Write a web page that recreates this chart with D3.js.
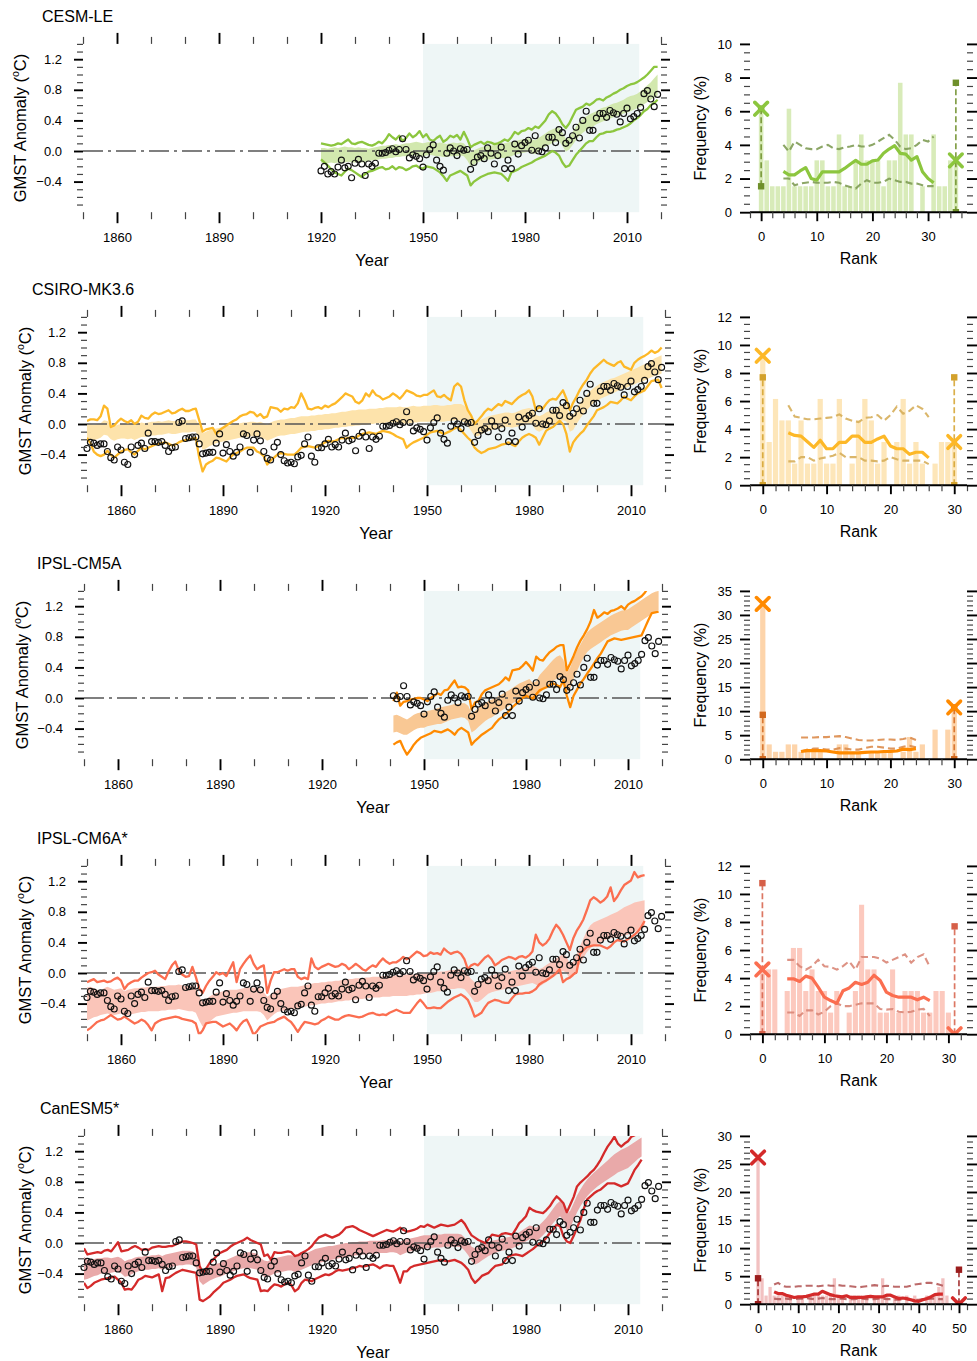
<!DOCTYPE html>
<html><head><meta charset="utf-8">
<script src="https://cdn.jsdelivr.net/npm/d3@7"></script>
<style>body{margin:0;background:#fff}</style>
</head><body><svg id="c" width="977" height="1361"></svg>
<script>
// ---------------- DATA ----------------
const obsStart = 1850;
const obs = [
-0.32,-0.24,-0.25,-0.28,-0.26,-0.26,-0.36,-0.44,-0.47,-0.30,
-0.34,-0.50,-0.53,-0.30,-0.40,-0.28,-0.25,-0.32,-0.12,-0.23,
-0.23,-0.24,-0.23,-0.28,-0.36,-0.31,-0.30,0.02,0.04,-0.19,
-0.18,-0.17,-0.17,-0.26,-0.39,-0.38,-0.37,-0.37,-0.25,-0.13,
-0.38,-0.27,-0.36,-0.42,-0.37,-0.30,-0.13,-0.15,-0.37,-0.21,
-0.13,-0.22,-0.36,-0.45,-0.47,-0.30,-0.24,-0.40,-0.48,-0.51,
-0.50,-0.52,-0.43,-0.41,-0.26,-0.17,-0.42,-0.50,-0.31,-0.31,
-0.26,-0.20,-0.30,-0.27,-0.30,-0.21,-0.12,-0.22,-0.20,-0.35,
-0.16,-0.11,-0.17,-0.32,-0.17,-0.20,-0.16,-0.03,-0.03,-0.02,
0.01,0.03,-0.01,0.02,0.16,0.02,-0.09,-0.05,-0.07,-0.10,
-0.21,-0.05,0.02,0.08,-0.12,-0.20,-0.25,-0.03,0.04,0.00,
-0.06,0.03,0.01,0.02,-0.24,-0.15,-0.08,-0.06,-0.10,0.04,
-0.03,-0.17,-0.06,0.05,-0.23,-0.12,-0.23,0.09,-0.04,0.07,
0.11,0.14,0.01,0.20,0.00,-0.01,0.04,0.18,0.18,0.11,
0.28,0.24,0.10,0.14,0.20,0.31,0.17,0.40,0.52,0.27,
0.27,0.43,0.49,0.49,0.44,0.53,0.50,0.48,0.38,0.49,
0.56,0.42,0.45,0.49,0.57,0.75,0.79,0.68,0.58,0.74];

// CESM-LE (1920-2019)
const cesmStart = 1920;
const cesmUpper = [
0.10,0.09,0.08,0.07,0.08,0.10,0.09,0.12,0.15,0.10,
0.09,0.11,0.12,0.10,0.08,0.07,0.09,0.12,0.10,0.15,
0.22,0.18,0.15,0.20,0.13,0.17,0.23,0.18,0.21,0.26,
0.18,0.22,0.15,0.13,0.17,0.20,0.12,0.15,0.20,0.18,
0.21,0.15,0.25,0.16,0.05,0.08,0.10,0.12,0.09,0.12,
0.11,0.09,0.10,0.12,0.15,0.13,0.18,0.25,0.22,0.26,
0.27,0.30,0.28,0.32,0.30,0.35,0.40,0.48,0.52,0.49,
0.43,0.35,0.30,0.36,0.45,0.54,0.56,0.58,0.62,0.60,
0.63,0.67,0.68,0.66,0.70,0.72,0.75,0.77,0.80,0.82,
0.85,0.87,0.88,0.90,0.93,0.96,1.00,1.05,1.10,1.10];
const cesmLower = [
-0.11,-0.15,-0.19,-0.24,-0.28,-0.30,-0.32,-0.27,-0.23,-0.25,
-0.28,-0.31,-0.34,-0.30,-0.27,-0.26,-0.24,-0.22,-0.21,-0.24,
-0.23,-0.20,-0.24,-0.21,-0.22,-0.25,-0.23,-0.20,-0.19,-0.22,
-0.23,-0.20,-0.21,-0.22,-0.25,-0.28,-0.33,-0.39,-0.32,-0.30,
-0.28,-0.26,-0.29,-0.32,-0.45,-0.40,-0.37,-0.34,-0.32,-0.30,
-0.29,-0.28,-0.29,-0.30,-0.34,-0.39,-0.28,-0.26,-0.24,-0.21,
-0.19,-0.17,-0.15,-0.12,-0.10,-0.08,-0.06,-0.03,0.00,-0.02,
-0.06,-0.15,-0.21,-0.19,-0.12,-0.05,0.00,0.05,0.10,0.13,
0.13,0.18,0.22,0.23,0.25,0.25,0.26,0.28,0.29,0.31,
0.33,0.36,0.40,0.43,0.47,0.52,0.55,0.60,0.63,0.67];
const cesmBandHi = [
0.04,0.04,0.03,0.04,0.05,0.04,0.05,0.06,0.05,0.05,
0.04,0.05,0.04,0.04,0.03,0.04,0.05,0.06,0.07,0.07,
0.08,0.08,0.09,0.08,0.09,0.10,0.10,0.11,0.12,0.11,
0.10,0.11,0.12,0.11,0.10,0.11,0.10,0.09,0.10,0.11,
0.10,0.11,0.10,0.05,-0.02,0.01,0.03,0.05,0.06,0.07,
0.07,0.08,0.09,0.09,0.10,0.11,0.12,0.13,0.14,0.15,
0.16,0.17,0.15,0.14,0.17,0.20,0.23,0.26,0.28,0.30,
0.31,0.25,0.16,0.18,0.25,0.32,0.38,0.42,0.45,0.48,
0.50,0.52,0.55,0.57,0.58,0.60,0.62,0.63,0.65,0.67,
0.70,0.72,0.73,0.75,0.78,0.82,0.86,0.90,0.95,1.00];
const cesmBandLo = [
-0.15,-0.16,-0.16,-0.15,-0.16,-0.15,-0.16,-0.15,-0.14,-0.15,
-0.15,-0.14,-0.15,-0.14,-0.13,-0.12,-0.12,-0.11,-0.10,-0.10,
-0.09,-0.09,-0.08,-0.08,-0.07,-0.07,-0.07,-0.06,-0.06,-0.07,
-0.07,-0.06,-0.05,-0.06,-0.07,-0.07,-0.08,-0.08,-0.07,-0.07,
-0.07,-0.06,-0.07,-0.12,-0.20,-0.18,-0.15,-0.13,-0.12,-0.11,
-0.11,-0.10,-0.10,-0.09,-0.09,-0.08,-0.07,-0.05,-0.04,-0.03,
-0.02,-0.01,-0.03,-0.04,-0.01,0.03,0.06,0.08,0.10,0.12,
0.13,0.07,-0.01,0.02,0.08,0.14,0.20,0.24,0.27,0.30,
0.32,0.35,0.37,0.39,0.40,0.42,0.44,0.46,0.47,0.49,
0.50,0.52,0.54,0.56,0.58,0.61,0.64,0.67,0.70,0.73];

// CSIRO-MK3.6 (1850-2019)
const csiroStart = 1850;
const csiroUpper = [
0.04,0.06,0.06,0.05,0.10,0.24,0.20,-0.04,-0.02,0.03,
0.07,0.04,0.02,0.05,0.00,0.03,0.11,0.08,0.07,0.12,
0.15,0.13,0.14,0.16,0.18,0.14,0.15,0.18,0.20,0.17,
0.17,0.19,0.20,0.05,-0.10,-0.07,-0.06,-0.05,-0.13,-0.08,
-0.05,-0.02,0.01,0.04,0.06,0.10,0.12,0.13,0.16,0.15,
0.10,0.13,0.08,0.10,0.22,0.21,0.20,0.16,0.20,0.19,
0.22,0.21,0.27,0.40,0.31,0.20,0.19,0.21,0.22,0.20,
0.24,0.22,0.25,0.27,0.31,0.35,0.40,0.38,0.36,0.29,
0.27,0.31,0.40,0.36,0.44,0.38,0.36,0.32,0.34,0.36,
0.40,0.37,0.33,0.38,0.44,0.42,0.40,0.37,0.36,0.38,
0.38,0.41,0.44,0.36,0.35,0.38,0.34,0.31,0.49,0.53,
0.49,0.31,0.18,0.11,0.00,0.05,0.10,0.16,0.20,0.18,
0.22,0.26,0.24,0.30,0.28,0.26,0.31,0.35,0.38,0.40,
0.44,0.36,0.18,0.22,0.20,0.26,0.31,0.33,0.32,0.38,
0.44,0.33,0.18,0.28,0.36,0.45,0.52,0.58,0.66,0.72,
0.76,0.80,0.84,0.80,0.78,0.76,0.80,0.82,0.75,0.73,
0.71,0.80,0.84,0.87,0.89,0.92,0.96,0.93,0.95,1.00];
const csiroLower = [
-0.18,-0.25,-0.36,-0.40,-0.42,-0.40,-0.35,-0.40,-0.44,-0.40,
-0.36,-0.34,-0.33,-0.37,-0.40,-0.35,-0.31,-0.33,-0.31,-0.29,
-0.27,-0.26,-0.25,-0.24,-0.26,-0.28,-0.27,-0.24,-0.22,-0.21,
-0.20,-0.19,-0.18,-0.44,-0.62,-0.53,-0.50,-0.48,-0.44,-0.45,
-0.47,-0.49,-0.44,-0.40,-0.38,-0.36,-0.33,-0.31,-0.31,-0.31,
-0.36,-0.38,-0.42,-0.53,-0.48,-0.44,-0.40,-0.38,-0.39,-0.40,
-0.40,-0.40,-0.36,-0.31,-0.30,-0.29,-0.30,-0.31,-0.29,-0.27,
-0.24,-0.22,-0.23,-0.22,-0.20,-0.18,-0.19,-0.18,-0.18,-0.18,
-0.15,-0.13,-0.12,-0.11,-0.12,-0.13,-0.11,-0.09,-0.10,-0.11,
-0.13,-0.16,-0.18,-0.20,-0.31,-0.27,-0.24,-0.22,-0.20,-0.18,
-0.14,-0.11,-0.10,-0.09,-0.11,-0.13,-0.11,-0.09,-0.06,-0.04,
-0.08,-0.13,-0.18,-0.22,-0.31,-0.35,-0.38,-0.36,-0.33,-0.32,
-0.31,-0.29,-0.27,-0.26,-0.24,-0.27,-0.29,-0.23,-0.18,-0.15,
-0.13,-0.15,-0.18,-0.27,-0.18,-0.09,-0.06,-0.04,0.00,0.04,
0.00,-0.13,-0.36,-0.24,-0.18,-0.13,-0.09,-0.02,0.04,0.10,
0.18,0.20,0.22,0.25,0.29,0.28,0.27,0.31,0.36,0.33,
0.31,0.36,0.40,0.42,0.44,0.50,0.56,0.57,0.58,0.47];
const csiroBandHi = [
0.00,0.00,-0.01,0.00,0.01,0.05,0.04,-0.02,-0.03,-0.01,
0.00,0.00,-0.01,0.00,-0.02,0.00,0.02,0.01,0.02,0.03,
0.03,0.04,0.03,0.04,0.05,0.04,0.04,0.05,0.06,0.05,
0.05,0.06,0.06,-0.02,-0.12,-0.10,-0.08,-0.07,-0.06,-0.05,
-0.04,-0.03,-0.02,-0.01,0.00,0.01,0.02,0.02,0.03,0.03,
0.02,0.03,0.01,-0.01,0.02,0.04,0.05,0.06,0.06,0.07,
0.08,0.08,0.09,0.10,0.10,0.10,0.11,0.11,0.12,0.12,
0.13,0.13,0.14,0.14,0.15,0.16,0.16,0.17,0.18,0.18,
0.19,0.19,0.19,0.20,0.20,0.20,0.21,0.21,0.22,0.22,
0.22,0.22,0.23,0.22,0.22,0.23,0.24,0.23,0.23,0.24,
0.24,0.24,0.25,0.25,0.24,0.24,0.25,0.25,0.26,0.26,
0.26,0.24,0.18,0.12,0.05,0.04,0.06,0.08,0.10,0.11,
0.12,0.13,0.14,0.15,0.15,0.14,0.15,0.17,0.19,0.20,
0.21,0.20,0.12,0.10,0.12,0.15,0.17,0.19,0.21,0.24,
0.26,0.24,0.10,0.12,0.20,0.27,0.33,0.38,0.43,0.47,
0.50,0.53,0.55,0.57,0.59,0.60,0.62,0.64,0.66,0.68,
0.70,0.72,0.74,0.76,0.78,0.80,0.83,0.86,0.88,0.90];
const csiroBandLo = [
-0.20,-0.20,-0.21,-0.20,-0.18,-0.14,-0.15,-0.20,-0.22,-0.20,
-0.19,-0.19,-0.20,-0.19,-0.21,-0.19,-0.17,-0.17,-0.16,-0.15,
-0.15,-0.14,-0.14,-0.13,-0.12,-0.13,-0.13,-0.12,-0.11,-0.11,
-0.11,-0.10,-0.10,-0.20,-0.34,-0.32,-0.29,-0.27,-0.25,-0.24,
-0.23,-0.22,-0.21,-0.20,-0.19,-0.18,-0.17,-0.17,-0.16,-0.16,
-0.17,-0.17,-0.19,-0.22,-0.20,-0.18,-0.16,-0.15,-0.15,-0.14,
-0.13,-0.13,-0.12,-0.11,-0.10,-0.10,-0.09,-0.09,-0.08,-0.08,
-0.07,-0.07,-0.06,-0.05,-0.05,-0.04,-0.04,-0.03,-0.03,-0.02,
-0.02,-0.01,-0.01,0.00,0.00,0.01,0.01,0.01,0.02,0.02,
0.02,0.02,0.01,0.01,0.00,0.01,0.02,0.02,0.03,0.03,
0.03,0.03,0.04,0.04,0.03,0.03,0.04,0.04,0.05,0.05,
0.04,0.02,-0.03,-0.09,-0.16,-0.16,-0.13,-0.11,-0.09,-0.08,
-0.07,-0.06,-0.05,-0.04,-0.04,-0.05,-0.04,-0.03,-0.02,-0.01,
0.00,-0.01,-0.08,-0.10,-0.08,-0.05,-0.03,-0.01,0.01,0.03,
0.05,0.03,-0.10,-0.08,0.00,0.07,0.13,0.18,0.23,0.27,
0.30,0.33,0.35,0.37,0.39,0.41,0.43,0.45,0.46,0.48,
0.50,0.52,0.54,0.55,0.57,0.59,0.61,0.63,0.64,0.66];

// IPSL-CM5A (1941-2019)
const cm5aStart = 1941;
const cm5aUpper = [
-0.04,0.07,-0.10,-0.05,-0.04,-0.02,-0.01,0.00,0.00,
-0.02,-0.04,0.00,0.03,0.06,0.04,0.10,0.11,0.17,0.23,
0.14,0.15,0.14,0.10,-0.15,-0.06,-0.04,0.05,0.10,0.12,
0.14,0.16,0.18,0.22,0.27,0.23,0.36,0.37,0.38,0.42,
0.47,0.42,0.36,0.54,0.50,0.49,0.55,0.60,0.63,0.67,
0.69,0.69,0.36,0.45,0.55,0.66,0.75,0.82,0.90,1.00,
1.15,1.05,1.08,1.12,1.10,1.14,1.15,1.17,1.20,1.16,
1.22,1.25,1.27,1.30,1.33,1.38,1.45,1.46,1.48,1.50];
const cm5aLower = [
-0.61,-0.58,-0.56,-0.66,-0.74,-0.68,-0.61,-0.56,-0.52,
-0.50,-0.48,-0.46,-0.43,-0.44,-0.45,-0.43,-0.41,-0.44,-0.48,
-0.42,-0.39,-0.42,-0.45,-0.61,-0.56,-0.52,-0.48,-0.45,-0.42,
-0.39,-0.33,-0.28,-0.25,-0.21,-0.17,-0.12,-0.08,-0.04,0.00,
0.03,0.01,-0.01,0.05,0.10,0.12,0.14,0.17,0.19,0.17,
0.14,0.23,0.03,-0.12,0.03,0.11,0.19,0.25,0.32,0.38,
0.45,0.52,0.58,0.66,0.74,0.76,0.78,0.77,0.76,0.77,
0.78,0.79,0.80,0.81,0.82,0.92,1.02,1.11,1.12,1.13];
const cm5aBandHi = [
-0.23,-0.22,-0.24,-0.26,-0.28,-0.25,-0.22,-0.20,-0.19,
-0.19,-0.17,-0.16,-0.15,-0.13,-0.12,-0.11,-0.10,-0.09,-0.08,
-0.08,-0.07,-0.07,-0.10,-0.20,-0.17,-0.13,-0.10,-0.07,-0.04,
-0.02,0.00,0.03,0.05,0.08,0.10,0.13,0.16,0.19,0.21,
0.23,0.25,0.20,0.22,0.30,0.35,0.40,0.45,0.50,0.54,
0.56,0.50,0.33,0.40,0.52,0.62,0.70,0.78,0.86,0.90,
0.93,0.96,0.99,1.02,1.05,1.08,1.10,1.12,1.14,1.15,
1.16,1.19,1.22,1.25,1.28,1.31,1.34,1.37,1.39,1.40];
const cm5aBandLo = [
-0.45,-0.44,-0.46,-0.48,-0.48,-0.45,-0.42,-0.40,-0.39,
-0.39,-0.37,-0.36,-0.35,-0.34,-0.34,-0.32,-0.30,-0.28,-0.27,
-0.26,-0.25,-0.26,-0.30,-0.45,-0.42,-0.38,-0.34,-0.30,-0.27,
-0.25,-0.22,-0.19,-0.16,-0.13,-0.10,-0.07,-0.05,-0.02,0.00,
0.00,0.01,-0.03,0.00,0.06,0.11,0.16,0.20,0.23,0.25,
0.27,0.22,0.06,0.12,0.25,0.35,0.45,0.53,0.60,0.64,
0.67,0.70,0.73,0.76,0.79,0.82,0.84,0.86,0.88,0.89,
0.89,0.92,0.95,0.98,1.01,1.04,1.07,1.10,1.13,1.15];

// IPSL-CM6A (1850-2014)
const cm6aStart = 1850;
const cm6aUpper = [
-0.12,-0.10,-0.08,-0.12,-0.11,-0.10,-0.12,-0.11,-0.08,-0.06,
-0.10,-0.21,-0.15,-0.12,-0.10,-0.10,-0.06,-0.03,0.00,0.01,
0.03,-0.02,-0.05,-0.08,0.02,0.10,0.15,0.03,-0.02,-0.05,
-0.04,0.08,-0.05,-0.20,-0.26,-0.17,-0.10,-0.05,0.01,-0.02,
0.00,-0.04,0.05,0.14,-0.12,0.05,0.12,0.18,0.23,0.12,
0.05,0.08,0.10,-0.26,-0.10,0.01,0.01,0.03,0.05,0.03,
0.05,0.05,-0.05,-0.08,-0.06,-0.08,0.19,0.08,0.05,0.08,
0.10,0.12,0.10,0.08,0.09,0.12,0.10,0.05,0.08,0.12,
0.09,0.05,0.03,0.07,0.10,0.08,0.14,0.19,0.15,0.12,
0.14,0.14,0.17,0.21,0.18,0.20,0.24,0.28,0.26,0.22,
0.23,0.27,0.25,0.26,0.24,0.32,0.28,0.25,0.27,0.28,
0.25,0.18,0.05,0.10,0.12,0.10,0.15,0.20,0.23,0.18,
0.10,0.13,0.17,0.19,0.21,0.20,0.18,0.21,0.22,0.20,
0.23,0.28,0.50,0.40,0.36,0.39,0.45,0.55,0.63,0.58,
0.50,0.40,0.30,0.45,0.55,0.62,0.70,0.82,0.95,0.99,
0.96,0.92,0.95,1.00,1.12,0.94,1.00,1.08,1.15,1.18,
1.21,1.32,1.25,1.27,1.28];
const cm6aLower = [
-0.75,-0.72,-0.68,-0.64,-0.62,-0.61,-0.58,-0.55,-0.58,-0.61,
-0.60,-0.57,-0.60,-0.63,-0.66,-0.64,-0.61,-0.63,-0.68,-0.75,
-0.66,-0.63,-0.61,-0.60,-0.59,-0.58,-0.57,-0.58,-0.60,-0.61,
-0.62,-0.63,-0.66,-0.81,-0.75,-0.66,-0.65,-0.64,-0.64,-0.67,
-0.70,-0.68,-0.66,-0.70,-0.75,-0.68,-0.63,-0.61,-0.70,-0.81,
-0.76,-0.70,-0.68,-0.66,-0.65,-0.64,-0.61,-0.59,-0.57,-0.61,
-0.64,-0.70,-0.77,-0.70,-0.64,-0.65,-0.66,-0.67,-0.66,-0.62,
-0.60,-0.57,-0.59,-0.61,-0.61,-0.58,-0.56,-0.55,-0.56,-0.57,
-0.58,-0.57,-0.55,-0.53,-0.52,-0.54,-0.55,-0.54,-0.55,-0.52,
-0.50,-0.48,-0.50,-0.52,-0.52,-0.52,-0.46,-0.40,-0.35,-0.40,
-0.46,-0.46,-0.45,-0.46,-0.46,-0.42,-0.38,-0.35,-0.32,-0.30,
-0.28,-0.31,-0.35,-0.45,-0.57,-0.55,-0.52,-0.45,-0.39,-0.37,
-0.35,-0.36,-0.38,-0.39,-0.39,-0.33,-0.28,-0.27,-0.27,-0.26,
-0.26,-0.24,-0.21,-0.15,-0.12,-0.10,-0.07,-0.04,0.00,0.05,
-0.12,-0.08,-0.06,-0.02,0.01,0.25,0.30,0.34,0.35,0.36,
0.36,0.36,0.34,0.32,0.35,0.40,0.43,0.42,0.41,0.44,
0.47,0.50,0.54,0.60,0.68];
const cm6aBandHi = [
-0.19,-0.18,-0.20,-0.22,-0.24,-0.20,-0.18,-0.20,-0.22,-0.21,
-0.20,-0.24,-0.22,-0.21,-0.20,-0.20,-0.19,-0.19,-0.18,-0.18,
-0.18,-0.18,-0.17,-0.17,-0.16,-0.16,-0.16,-0.15,-0.16,-0.17,
-0.17,-0.17,-0.18,-0.30,-0.38,-0.35,-0.31,-0.28,-0.26,-0.25,
-0.24,-0.23,-0.22,-0.22,-0.22,-0.21,-0.20,-0.19,-0.19,-0.19,
-0.19,-0.20,-0.25,-0.31,-0.28,-0.25,-0.22,-0.21,-0.20,-0.19,
-0.18,-0.18,-0.18,-0.17,-0.16,-0.15,-0.14,-0.13,-0.13,-0.12,
-0.12,-0.11,-0.11,-0.10,-0.10,-0.09,-0.09,-0.08,-0.08,-0.07,
-0.07,-0.07,-0.06,-0.06,-0.05,-0.05,-0.05,-0.04,-0.04,-0.04,
-0.04,-0.03,-0.03,-0.03,-0.02,-0.02,-0.02,-0.01,-0.01,-0.01,
0.00,0.00,0.01,0.01,0.02,0.02,0.03,0.04,0.04,0.05,
0.05,0.04,-0.02,-0.08,-0.12,-0.12,-0.10,-0.07,-0.05,-0.03,
-0.02,-0.01,0.00,0.01,0.02,0.03,0.04,0.05,0.06,0.07,
0.08,0.09,0.08,0.05,0.07,0.10,0.13,0.16,0.19,0.22,
0.25,0.22,0.12,0.15,0.25,0.35,0.45,0.55,0.62,0.66,
0.68,0.70,0.72,0.74,0.76,0.78,0.80,0.83,0.86,0.88,
0.90,0.92,0.93,0.94,0.95];
const cm6aBandLo = [
-0.62,-0.60,-0.58,-0.57,-0.55,-0.54,-0.53,-0.54,-0.55,-0.54,
-0.53,-0.56,-0.55,-0.54,-0.53,-0.52,-0.51,-0.51,-0.50,-0.50,
-0.50,-0.50,-0.49,-0.49,-0.48,-0.48,-0.48,-0.47,-0.48,-0.49,
-0.50,-0.50,-0.52,-0.62,-0.70,-0.68,-0.64,-0.60,-0.57,-0.56,
-0.55,-0.54,-0.53,-0.52,-0.52,-0.51,-0.50,-0.50,-0.50,-0.50,
-0.50,-0.51,-0.55,-0.62,-0.58,-0.54,-0.51,-0.50,-0.49,-0.48,
-0.47,-0.47,-0.46,-0.45,-0.44,-0.43,-0.42,-0.42,-0.41,-0.40,
-0.40,-0.39,-0.39,-0.38,-0.37,-0.37,-0.36,-0.36,-0.35,-0.35,
-0.34,-0.34,-0.33,-0.33,-0.32,-0.32,-0.32,-0.31,-0.31,-0.31,
-0.30,-0.30,-0.30,-0.30,-0.30,-0.29,-0.29,-0.28,-0.28,-0.27,
-0.26,-0.26,-0.25,-0.24,-0.24,-0.23,-0.22,-0.21,-0.21,-0.20,
-0.20,-0.21,-0.26,-0.32,-0.38,-0.38,-0.35,-0.31,-0.27,-0.25,
-0.24,-0.23,-0.22,-0.21,-0.20,-0.19,-0.18,-0.17,-0.16,-0.15,
-0.14,-0.13,-0.15,-0.18,-0.15,-0.12,-0.09,-0.06,-0.03,0.00,
0.03,0.00,-0.08,-0.05,0.03,0.12,0.20,0.27,0.32,0.36,
0.38,0.40,0.42,0.44,0.45,0.46,0.47,0.48,0.49,0.50,
0.52,0.54,0.56,0.58,0.60];

// CanESM5 (1850-2014)
const canStart = 1850;
const canUpper = [
-0.07,-0.15,-0.14,-0.13,-0.12,-0.13,-0.10,-0.09,-0.11,-0.05,
0.01,-0.11,-0.10,-0.09,-0.06,-0.04,-0.06,-0.09,-0.08,-0.09,
-0.06,-0.05,-0.04,-0.05,-0.05,-0.04,-0.04,-0.02,0.00,0.02,
0.02,0.01,0.00,-0.02,-0.30,-0.39,-0.33,-0.26,-0.22,-0.17,
-0.13,-0.11,-0.09,-0.05,-0.02,0.00,0.02,0.04,0.07,0.04,
0.02,0.00,-0.02,-0.17,-0.15,-0.22,-0.12,-0.13,-0.13,-0.12,
-0.11,-0.12,-0.17,-0.16,-0.13,-0.11,-0.08,-0.04,0.02,0.07,
0.09,0.11,0.09,0.07,0.09,0.11,0.15,0.20,0.21,0.22,
0.20,0.17,0.15,0.13,0.11,0.09,0.11,0.13,0.15,0.17,
0.16,0.15,0.17,0.20,0.17,0.15,0.16,0.17,0.19,0.22,
0.21,0.24,0.22,0.20,0.22,0.24,0.23,0.22,0.23,0.24,
0.27,0.30,0.25,0.17,0.10,0.07,0.04,0.02,0.00,0.05,
0.11,0.10,0.09,0.12,0.13,0.12,0.11,0.18,0.26,0.30,
0.35,0.46,0.43,0.41,0.40,0.39,0.43,0.48,0.55,0.61,
0.57,0.52,0.40,0.50,0.60,0.74,0.79,0.83,0.87,0.92,
0.96,1.02,1.09,1.18,1.26,1.32,1.39,1.30,1.26,1.30,
1.33,1.39,1.41,1.45,1.48];
const canLower = [
-0.52,-0.59,-0.56,-0.52,-0.50,-0.48,-0.47,-0.46,-0.45,-0.44,
-0.48,-0.52,-0.61,-0.60,-0.61,-0.55,-0.48,-0.46,-0.43,-0.44,
-0.45,-0.43,-0.41,-0.63,-0.46,-0.45,-0.42,-0.39,-0.37,-0.35,
-0.36,-0.37,-0.38,-0.39,-0.74,-0.76,-0.73,-0.70,-0.65,-0.61,
-0.57,-0.52,-0.50,-0.48,-0.45,-0.43,-0.42,-0.41,-0.44,-0.46,
-0.47,-0.48,-0.63,-0.62,-0.63,-0.58,-0.54,-0.55,-0.57,-0.54,
-0.52,-0.55,-0.63,-0.60,-0.52,-0.48,-0.49,-0.50,-0.47,-0.45,
-0.43,-0.41,-0.42,-0.40,-0.37,-0.35,-0.36,-0.35,-0.34,-0.33,
-0.32,-0.30,-0.31,-0.30,-0.29,-0.28,-0.30,-0.33,-0.30,-0.29,
-0.30,-0.30,-0.40,-0.52,-0.37,-0.37,-0.32,-0.30,-0.29,-0.28,
-0.27,-0.26,-0.25,-0.24,-0.23,-0.22,-0.23,-0.24,-0.23,-0.22,
-0.24,-0.26,-0.30,-0.35,-0.46,-0.52,-0.48,-0.43,-0.41,-0.39,
-0.34,-0.30,-0.29,-0.28,-0.22,-0.17,-0.16,-0.15,-0.16,-0.17,
-0.14,-0.11,-0.08,-0.04,-0.01,0.02,0.07,0.13,0.18,0.24,
0.22,0.09,0.02,0.00,0.09,0.20,0.30,0.45,0.57,0.61,
0.65,0.68,0.70,0.74,0.78,0.78,0.78,0.76,0.74,0.76,
0.78,0.87,0.96,1.02,1.09];
const canBandHi = [
-0.18,-0.22,-0.22,-0.21,-0.20,-0.20,-0.19,-0.19,-0.20,-0.19,
-0.18,-0.20,-0.24,-0.22,-0.21,-0.19,-0.18,-0.18,-0.17,-0.17,
-0.16,-0.16,-0.15,-0.17,-0.15,-0.14,-0.13,-0.12,-0.11,-0.10,
-0.10,-0.10,-0.11,-0.14,-0.30,-0.36,-0.33,-0.30,-0.28,-0.27,
-0.26,-0.24,-0.22,-0.20,-0.18,-0.16,-0.14,-0.13,-0.12,-0.12,
-0.13,-0.14,-0.20,-0.23,-0.24,-0.22,-0.20,-0.19,-0.18,-0.17,
-0.16,-0.16,-0.18,-0.17,-0.15,-0.13,-0.12,-0.10,-0.08,-0.07,
-0.06,-0.05,-0.04,-0.04,-0.03,-0.02,-0.01,0.00,0.00,0.01,
0.01,0.02,0.02,0.02,0.03,0.03,0.03,0.03,0.04,0.04,
0.04,0.05,0.04,0.02,0.04,0.05,0.06,0.07,0.08,0.09,
0.10,0.10,0.10,0.11,0.11,0.11,0.12,0.12,0.12,0.12,
0.12,0.11,0.07,0.02,-0.05,-0.07,-0.05,-0.03,-0.01,0.01,
0.03,0.04,0.05,0.06,0.07,0.08,0.09,0.11,0.14,0.17,
0.20,0.23,0.22,0.20,0.24,0.28,0.33,0.39,0.45,0.51,
0.55,0.50,0.38,0.42,0.52,0.62,0.70,0.77,0.83,0.88,
0.92,0.96,1.00,1.04,1.08,1.12,1.16,1.19,1.22,1.24,
1.26,1.29,1.32,1.35,1.38];
const canBandLo = [
-0.48,-0.47,-0.45,-0.43,-0.42,-0.40,-0.40,-0.40,-0.39,-0.38,
-0.38,-0.40,-0.44,-0.43,-0.41,-0.39,-0.37,-0.36,-0.35,-0.35,
-0.34,-0.34,-0.33,-0.35,-0.33,-0.32,-0.31,-0.30,-0.29,-0.29,
-0.28,-0.28,-0.29,-0.32,-0.50,-0.55,-0.52,-0.49,-0.47,-0.45,
-0.44,-0.42,-0.40,-0.38,-0.37,-0.35,-0.34,-0.33,-0.33,-0.33,
-0.34,-0.35,-0.40,-0.44,-0.44,-0.42,-0.40,-0.39,-0.38,-0.37,
-0.36,-0.36,-0.38,-0.37,-0.35,-0.33,-0.31,-0.29,-0.27,-0.26,
-0.25,-0.24,-0.23,-0.22,-0.21,-0.20,-0.19,-0.18,-0.18,-0.17,
-0.16,-0.16,-0.15,-0.15,-0.14,-0.14,-0.14,-0.13,-0.13,-0.13,
-0.12,-0.12,-0.13,-0.16,-0.14,-0.12,-0.11,-0.10,-0.09,-0.08,
-0.08,-0.07,-0.07,-0.06,-0.06,-0.06,-0.05,-0.05,-0.05,-0.05,
-0.05,-0.06,-0.10,-0.16,-0.24,-0.28,-0.26,-0.23,-0.20,-0.17,
-0.15,-0.13,-0.11,-0.10,-0.09,-0.08,-0.07,-0.05,-0.03,0.00,
0.02,0.05,0.04,0.02,0.06,0.10,0.15,0.20,0.26,0.31,
0.35,0.30,0.16,0.20,0.30,0.40,0.48,0.55,0.61,0.66,
0.70,0.74,0.77,0.80,0.83,0.86,0.89,0.92,0.94,0.96,
0.98,1.02,1.06,1.10,1.13];

// Rank histograms (frequency %, ranks 0..N)
const cesmFreq = [6.15,3.08,1.54,1.54,1.54,6.15,1.54,1.54,1.54,1.54,3.08,3.08,1.54,1.54,4.62,1.54,1.54,3.08,4.62,3.08,3.08,3.08,1.54,3.08,3.08,7.69,4.62,4.62,0,1.54,0,4.62,1.54,1.54,3.08,3.08];
const cesmMeanStart = 4;
const cesmMean = [2.42,2.22,2.22,2.45,2.65,2.0,1.9,2.4,2.4,2.4,2.4,2.6,2.85,3.08,2.85,2.85,3.05,3.1,3.5,3.75,3.95,3.5,3.45,3.1,3.3,2.4,2.0,1.75];
const cesmHi = [4.0,3.6,4.2,4.0,3.8,3.75,3.75,3.9,4.0,3.8,3.75,3.85,3.9,4.0,3.9,3.9,4.0,4.2,4.4,4.6,4.3,3.9,3.75,3.8,4.0,4.3,4.2,4.5];
const cesmLo = [2.0,2.0,1.6,1.7,1.75,1.8,1.75,1.75,1.75,1.8,1.75,1.6,1.5,1.4,1.7,1.9,1.75,1.75,1.8,2.0,1.9,1.8,1.8,1.7,1.7,1.6,1.55,1.55];
const cesmEnds = [{rank:0, obs:6.15, lo:1.54, hi:6.15},{rank:35, obs:3.08, lo:0, hi:7.69}];

const csiroFreq = [9.23,3.08,6.15,4.62,4.62,1.54,4.62,1.54,1.54,6.15,1.54,1.54,6.15,0,1.54,4.62,6.15,4.62,1.54,3.08,0,3.08,6.15,1.54,3.08,1.54,0,1.54,3.08,3.08,3.08];
const csiroMeanStart = 4;
const csiroMean = [3.74,3.55,3.5,3.1,2.7,3.2,2.6,2.6,3.05,3.05,3.5,3.5,3.05,3.05,3.3,3.5,2.8,2.6,2.6,2.2,2.35,2.35,1.95];
const csiroHi = [5.7,4.9,4.8,4.7,4.7,4.75,4.8,4.85,5.05,4.75,4.6,4.5,4.8,4.85,5.0,4.6,5.0,5.6,5.1,5.3,5.7,5.45,4.85];
const csiroLo = [1.7,1.7,2.0,2.0,1.75,1.9,2.0,2.1,2.3,2.0,2.0,2.0,1.75,1.75,1.7,1.75,2.0,1.85,1.75,1.75,1.75,1.75,1.5];
const csiroEnds = [{rank:0, obs:9.23, lo:0, hi:7.69},{rank:30, obs:3.08, lo:0, hi:7.69}];

const cm5aFreq = [32.31,3.08,1.54,1.54,3.08,3.08,1.54,1.54,1.54,1.54,0,0,3.08,3.08,1.54,1.54,0,1.54,1.54,1.54,1.54,0,1.54,4.62,1.54,3.08,0,6.15,0,6.15,10.77];
const cm5aMeanStart = 6;
const cm5aMean = [1.6,1.8,1.8,1.8,1.7,1.5,1.3,1.3,1.3,1.3,1.4,1.5,1.5,1.6,1.6,1.7,2.1,2.0,2.2];
const cm5aHi = [4.5,4.5,4.5,4.6,4.6,4.7,4.8,4.6,4.3,4.0,3.9,3.9,4.0,4.1,4.1,4.0,4.2,4.5,4.0];
const cm5aLo = [1.6,2.0,2.2,2.2,2.0,2.0,2.3,2.2,2.0,2.0,2.3,2.6,2.6,2.4,2.2,2.2,2.6,2.8,2.5];
const cm5aEnds = [{rank:0, obs:32.31, lo:0, hi:9.23},{rank:30, obs:10.77, lo:0, hi:10.77}];

const cm6aFreq = [4.62,4.62,4.62,0,3.08,6.15,6.15,3.08,4.62,3.08,3.08,1.54,3.08,0,1.54,3.08,9.23,4.62,4.62,1.54,1.54,4.62,1.54,3.08,3.08,3.08,1.54,1.54,3.08,3.08,1.54,0];
const cm6aMeanStart = 4;
const cm6aMean = [3.95,3.95,3.76,4.14,4.0,3.36,2.64,2.4,2.2,3.1,3.3,3.7,3.55,3.7,4.2,3.83,3.0,2.76,2.64,2.64,2.64,2.45,2.64,2.4];
const cm6aHi = [5.3,5.3,4.85,4.6,4.85,5.3,4.85,4.8,4.6,4.85,5.2,4.6,5.5,5.5,5.5,5.4,5.1,5.3,5.5,5.7,5.1,5.5,5.7,4.8];
const cm6aLo = [1.55,1.55,1.3,1.7,1.7,1.4,1.6,2.0,2.2,2.0,2.0,2.1,2.2,2.2,2.2,1.8,1.75,1.8,1.6,1.55,1.6,1.75,1.8,1.3];
const cm6aEnds = [{rank:0, obs:4.62, lo:0, hi:10.77},{rank:31, obs:0, lo:0, hi:7.69}];

const canFreq = [26.15,4.62,1.54,3.08,1.54,1.54,1.54,1.54,1.54,0,1.54,1.54,0,1.54,1.54,1.54,1.54,1.54,1.54,4.62,1.54,1.54,0,1.54,1.54,1.54,1.54,1.54,0,1.54,1.54,4.62,1.54,0,1.54,1.54,0,1.54,0,1.54,0,0,1.54,1.54,1.54,3.08,4.62,1.54,0,0,0];
const canMeanStart = 4;
const canMean = [2.2,1.9,1.9,1.6,1.4,1.2,1.3,1.3,1.4,1.6,1.8,1.8,2.3,2.0,1.7,1.5,1.4,1.3,1.5,1.2,1.2,1.2,1.2,1.3,1.4,1.3,1.3,1.3,1.6,1.6,1.3,1.0,1.1,1.0,0.8,0.6,0.5,0.8,1.0,1.3,1.7,1.8,1.8];
const canHi = [3.5,3.8,3.3,3.1,3.1,3.1,3.2,3.2,3.3,3.3,3.3,3.2,3.3,3.4,3.3,3.3,3.4,3.3,3.3,3.2,3.1,3.0,3.1,3.2,3.3,3.4,3.3,3.2,3.3,3.2,3.1,3.1,3.1,3.1,3.3,3.5,3.6,3.7,3.8,3.8,3.7,3.5,3.3];
const canLo = [1.0,0.9,0.9,1.0,0.9,0.9,1.0,1.0,1.1,1.0,0.9,1.0,1.1,1.0,0.9,0.9,1.0,1.0,0.9,0.9,0.9,1.0,1.0,0.9,0.9,0.9,1.0,1.0,0.9,0.9,0.8,0.8,0.9,0.9,0.8,0.8,0.8,0.9,0.9,1.0,1.0,0.9,0.9];
const canEnds = [{rank:0, obs:26.15, lo:0, hi:4.62},{rank:50, obs:0, lo:0, hi:6.15}];

const titles = ["CESM-LE","CSIRO-MK3.6","IPSL-CM5A","IPSL-CM6A*","CanESM5*"];
const xMajor = [1860,1890,1920,1950,1980,2010];
const yMajor = [-0.4,0,0.4,0.8,1.2];
const evalStart = 1950, evalEnd = 2013.6;

// ---------------- STYLE / LAYOUT ----------------
const FONT = '"Liberation Sans", Arial, Helvetica, sans-serif';
const zeroY = [151, 424, 698, 973, 1243];
const tsLeft = [83, 87, 84, 87, 84];
const titleX = [42, 32, 37, 37, 40];
const ylabX = [20, 25, 22, 25, 25];
const PXU = 76.5;

const models = [
 {start:cesmStart, up:cesmUpper, lo:cesmLower, bh:cesmBandHi, bl:cesmBandLo, obsFrom:1920,
  line:"#8cc63e", band:"#d2e8ae", bar:"#d8ebb9", dash:"#7f9c55", dark:"#6e8f2a",
  freq:cesmFreq, ms:cesmMeanStart, mean:cesmMean, hi:cesmHi, lw:cesmLo, ends:cesmEnds, ymax:10, yminor:0.5, ymaj:2},
 {start:csiroStart, up:csiroUpper, lo:csiroLower, bh:csiroBandHi, bl:csiroBandLo, obsFrom:1850,
  line:"#fdb827", band:"#fde3ab", bar:"#fde6b9", dash:"#d6ae5a", dark:"#d3a12b",
  freq:csiroFreq, ms:csiroMeanStart, mean:csiroMean, hi:csiroHi, lw:csiroLo, ends:csiroEnds, ymax:12, yminor:0.5, ymaj:2},
 {start:cm5aStart, up:cm5aUpper, lo:cm5aLower, bh:cm5aBandHi, bl:cm5aBandLo, obsFrom:1941,
  line:"#ff8a00", band:"#f9c894", bar:"#fdd4aa", dash:"#db8c4c", dark:"#d2691e",
  freq:cm5aFreq, ms:cm5aMeanStart, mean:cm5aMean, hi:cm5aHi, lw:cm5aLo, ends:cm5aEnds, ymax:35, yminor:1, ymaj:5},
 {start:cm6aStart, up:cm6aUpper, lo:cm6aLower, bh:cm6aBandHi, bl:cm6aBandLo, obsFrom:1850,
  line:"#fb6e50", band:"#fac5b9", bar:"#fcc9be", dash:"#d98677", dark:"#d65f48",
  freq:cm6aFreq, ms:cm6aMeanStart, mean:cm6aMean, hi:cm6aHi, lw:cm6aLo, ends:cm6aEnds, ymax:12, yminor:0.5, ymaj:2},
 {start:canStart, up:canUpper, lo:canLower, bh:canBandHi, bl:canBandLo, obsFrom:1850,
  line:"#d42a2a", band:"#e9a9a9", bar:"#f2c1c1", dash:"#b55a5a", dark:"#9b1c1c",
  freq:canFreq, ms:canMeanStart, mean:canMean, hi:canHi, lw:canLo, ends:canEnds, ymax:30, yminor:1, ymaj:5}
];

const svg = d3.select("#c");
const defs = svg.append("defs");

function styleAxis(sel, major){
  sel.select(".domain").remove();
  sel.selectAll(".tick line").attr("stroke", major ? "#000" : "#444").attr("stroke-width", major ? 1.9 : 1.2);
  sel.selectAll(".tick text").attr("font-family", FONT).attr("font-size", 13).attr("fill", "#000");
}
function range(a, b, s){ const r=[]; for(let v=a; v<=b+1e-9; v+=s) r.push(+v.toFixed(4)); return r; }

function drawTS(i, m){
  const L = tsLeft[i], R = L + 578, base = zeroY[i];
  const x = d3.scaleLinear().domain([1850, 2020]).range([L, R]);
  const y = d3.scaleLinear().domain([-0.8, 1.4]).range([base + 0.8*PXU, base - 1.4*PXU]);
  const top = y(1.4), bot = y(-0.8);
  const g = svg.append("g");
  defs.append("clipPath").attr("id", "ts"+i).append("rect")
    .attr("x", L).attr("y", top).attr("width", R-L).attr("height", bot-top);
  g.append("rect").attr("x", x(evalStart)).attr("y", top)
    .attr("width", x(evalEnd)-x(evalStart)).attr("height", bot-top).attr("fill", "#eef6f6");
  const pg = g.append("g").attr("clip-path", `url(#ts${i})`);
  const area = d3.area().x((d,k)=>x(m.start+k)).y0((d,k)=>y(m.bl[k])).y1(d=>y(d));
  pg.append("path").datum(m.bh).attr("d", area).attr("fill", m.band);
  pg.append("line").attr("x1", x(1850)).attr("x2", x(2020)).attr("y1", y(0)).attr("y2", y(0))
    .attr("stroke", "#555").attr("stroke-width", 1.6).attr("stroke-dasharray", "20,5,3,5");
  const line = d3.line().x((d,k)=>x(m.start+k)).y(d=>y(d));
  [m.up, m.lo].forEach(s => pg.append("path").datum(s).attr("d", line)
    .attr("fill", "none").attr("stroke", m.line).attr("stroke-width", 2.3).attr("stroke-linejoin","round"));
  const od = obs.slice(m.obsFrom - obsStart);
  g.append("g").selectAll("circle").data(od).join("circle")
    .attr("cx", (d,k)=>x(m.obsFrom+k)).attr("cy", d=>y(d)).attr("r", 3.0)
    .attr("fill", "none").attr("stroke", "#111").attr("stroke-width", 1.15);

  const minorX = range(1850, 2020, 10).filter(v => !xMajor.includes(v));
  const minorY = range(-0.7, 1.4, 0.1).filter(v => !yMajor.some(t => Math.abs(t-v) < 1e-6));
  g.append("g").attr("transform", `translate(0,${bot})`)
    .call(d3.axisBottom(x).tickValues(xMajor).tickSize(11).tickPadding(10).tickFormat(d3.format("d"))).call(s=>styleAxis(s,true));
  g.append("g").attr("transform", `translate(0,${bot})`)
    .call(d3.axisBottom(x).tickValues(minorX).tickSize(7).tickFormat("")).call(s=>styleAxis(s,false));
  g.append("g").attr("transform", `translate(0,${top})`)
    .call(d3.axisTop(x).tickValues(xMajor).tickSize(11).tickFormat("")).call(s=>styleAxis(s,true));
  g.append("g").attr("transform", `translate(0,${top})`)
    .call(d3.axisTop(x).tickValues(minorX).tickSize(7).tickFormat("")).call(s=>styleAxis(s,false));
  g.append("g").attr("transform", `translate(${L},0)`)
    .call(d3.axisLeft(y).tickValues(yMajor).tickSize(9).tickPadding(12).tickFormat(d3.format(".1f"))).call(s=>styleAxis(s,true));
  g.append("g").attr("transform", `translate(${L},0)`)
    .call(d3.axisLeft(y).tickValues(minorY).tickSize(6).tickFormat("")).call(s=>styleAxis(s,false));
  g.append("g").attr("transform", `translate(${R},0)`)
    .call(d3.axisRight(y).tickValues(yMajor).tickSize(9).tickFormat("")).call(s=>styleAxis(s,true));
  g.append("g").attr("transform", `translate(${R},0)`)
    .call(d3.axisRight(y).tickValues(minorY).tickSize(6).tickFormat("")).call(s=>styleAxis(s,false));

  g.append("text").attr("x", titleX[i]).attr("y", top - 22).attr("font-family", FONT)
    .attr("font-size", 16).attr("fill", "#000").text(titles[i]);
  g.append("text").attr("x", (L+R)/2).attr("y", bot + 54).attr("text-anchor", "middle")
    .attr("font-family", FONT).attr("font-size", 16.5).text("Year");
  const yl = g.append("text").attr("transform", `translate(${ylabX[i]+6},${(top+bot)/2}) rotate(-90)`)
    .attr("text-anchor", "middle").attr("font-family", FONT).attr("font-size", 16.5);
  yl.append("tspan").text("GMST Anomaly (");
  yl.append("tspan").attr("font-size", 10.5).attr("dy", -7).text("o");
  yl.append("tspan").attr("dy", 7).text("C)");
}

function xMark(sel, cx, cy, r, color, w){
  sel.append("path").attr("d", `M${cx-r},${cy-r}L${cx+r},${cy+r}M${cx-r},${cy+r}L${cx+r},${cy-r}`)
    .attr("stroke", color).attr("stroke-width", w).attr("stroke-linecap", "round").attr("fill", "none");
}

function drawHist(i, m){
  const L = 750, R = 967, N = m.freq.length - 1, base = zeroY[i];
  const x = d3.scaleLinear().domain([-2, N+2]).range([L, R]);
  const y = d3.scaleLinear().domain([0, m.ymax]).range([base + 0.8*PXU, base - 1.4*PXU]);
  const top = y(m.ymax), bot = y(0);
  const g = svg.append("g");
  defs.append("clipPath").attr("id", "h"+i).append("rect")
    .attr("x", L).attr("y", top - 8).attr("width", R-L).attr("height", bot-top+8);
  const pg = g.append("g").attr("clip-path", `url(#h${i})`);
  const bw = (x(1)-x(0))*0.82;
  pg.selectAll("rect.bar").data(m.freq).join("rect").attr("class","bar")
    .attr("x", (d,k)=>x(k)-bw/2).attr("width", bw).attr("y", d=>y(d)).attr("height", d=>bot-y(d))
    .attr("fill", m.bar);
  m.ends.forEach(e => {
    pg.append("line").attr("x1", x(e.rank)).attr("x2", x(e.rank)).attr("y1", y(e.lo)).attr("y2", y(e.hi))
      .attr("stroke", m.dark).attr("stroke-opacity", 0.85).attr("stroke-width", 1.7).attr("stroke-dasharray", "6,3");
  });
  const ln = d3.line().x((d,k)=>x(m.ms+k)).y(d=>y(d));
  [m.hi, m.lw].forEach(s => pg.append("path").datum(s).attr("d", ln).attr("fill","none")
    .attr("stroke", m.dash).attr("stroke-opacity", 0.9).attr("stroke-width", 2.1).attr("stroke-dasharray", "7,4"));
  pg.append("path").datum(m.mean).attr("d", ln).attr("fill","none")
    .attr("stroke", m.line).attr("stroke-width", 3.2).attr("stroke-linejoin","round");
  g.append("line").attr("x1", L).attr("x2", R).attr("y1", bot).attr("y2", bot).attr("stroke", "#000").attr("stroke-width", 1.9);
  m.ends.forEach(e => {
    [e.lo, e.hi].forEach(v => {
      pg.append("rect").attr("x", x(e.rank)-3.2).attr("y", y(v)-3.2).attr("width", 6.4).attr("height", 6.4).attr("fill", m.dark);
    });
    xMark(pg, x(e.rank), y(e.obs), 6.3, m.line, 3.6);
  });

  const xMaj = range(0, N, 10);
  const xMin = range(-2, N+2, 2).filter(v => v % 10 !== 0);
  const yMaj = range(0, m.ymax, m.ymaj);
  const yMin = range(0, m.ymax, m.yminor).filter(v => !yMaj.some(t => Math.abs(t-v) < 1e-6));
  g.append("g").attr("transform", `translate(0,${bot})`)
    .call(d3.axisBottom(x).tickValues(xMaj).tickSize(9).tickPadding(11).tickFormat(d3.format("d"))).call(s=>styleAxis(s,true));
  g.append("g").attr("transform", `translate(0,${bot})`)
    .call(d3.axisBottom(x).tickValues(xMin).tickSize(6).tickFormat("")).call(s=>styleAxis(s,false));
  g.append("g").attr("transform", `translate(${L},0)`)
    .call(d3.axisLeft(y).tickValues(yMaj).tickSize(10).tickPadding(8).tickFormat(d3.format("d"))).call(s=>styleAxis(s,true));
  g.append("g").attr("transform", `translate(${L},0)`)
    .call(d3.axisLeft(y).tickValues(yMin).tickSize(6).tickFormat("")).call(s=>styleAxis(s,false));
  g.append("g").attr("transform", `translate(${R},0)`)
    .call(d3.axisRight(y).tickValues(yMaj).tickSize(10).tickFormat("")).call(s=>styleAxis(s,true));
  g.append("g").attr("transform", `translate(${R},0)`)
    .call(d3.axisRight(y).tickValues(yMin).tickSize(6).tickFormat("")).call(s=>styleAxis(s,false));
  g.append("text").attr("x", (L+R)/2).attr("y", bot + 52).attr("text-anchor","middle")
    .attr("font-family", FONT).attr("font-size", 16).text("Rank");
  g.append("text").attr("transform", `translate(706,${(top+bot)/2}) rotate(-90)`).attr("text-anchor","middle")
    .attr("font-family", FONT).attr("font-size", 16).text("Frequency (%)");
}

models.forEach((m, i) => { drawTS(i, m); drawHist(i, m); });
</script></body></html>
